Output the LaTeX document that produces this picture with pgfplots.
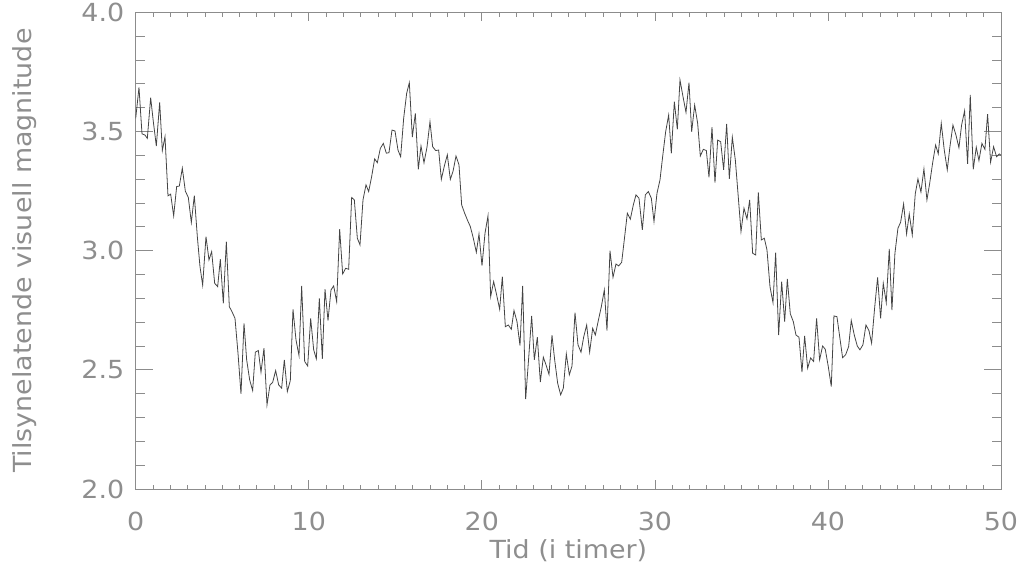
\documentclass[border=0pt]{standalone}
\usepackage{fontspec}
\setmainfont{DejaVu Sans}[FakeStretch=1.08]
\usepackage{pgfplots}
\pgfplotsset{compat=1.18}
\usepackage{pgfplotstable}
\definecolor{txtgray}{HTML}{8E8E8E}
\definecolor{axgray}{HTML}{8C8C8C}
\definecolor{linegray}{HTML}{444444}

\pgfplotstableread{
t m
0.00 3.555
0.19 3.685
0.364 3.490
0.537 3.485
0.672 3.471
0.865 3.642
1.019 3.541
1.192 3.439
1.385 3.622
1.539 3.420
1.693 3.478
1.866 3.230
2.020 3.237
2.194 3.146
2.367 3.269
2.521 3.271
2.694 3.346
2.868 3.250
3.041 3.223
3.215 3.118
3.388 3.231
3.561 3.059
3.715 2.933
3.869 2.855
4.062 3.059
4.235 2.961
4.389 2.996
4.563 2.863
4.736 2.849
4.890 2.964
5.063 2.779
5.237 3.038
5.410 2.765
5.564 2.744
5.738 2.716
5.911 2.570
6.084 2.399
6.258 2.695
6.412 2.542
6.585 2.458
6.758 2.413
6.913 2.574
7.086 2.581
7.240 2.490
7.413 2.591
7.587 2.353
7.760 2.437
7.914 2.447
8.087 2.497
8.261 2.437
8.434 2.423
8.588 2.542
8.762 2.409
8.935 2.455
9.089 2.754
9.262 2.626
9.436 2.560
9.590 2.852
9.764 2.535
9.937 2.516
10.110 2.716
10.284 2.584
10.438 2.546
10.611 2.800
10.784 2.546
10.939 2.838
11.112 2.707
11.285 2.835
11.439 2.852
11.613 2.786
11.786 3.090
11.959 2.902
12.133 2.926
12.306 2.922
12.479 3.223
12.633 3.213
12.807 3.052
12.961 3.024
13.134 3.213
13.308 3.276
13.462 3.248
13.635 3.311
13.808 3.385
13.962 3.369
14.136 3.429
14.309 3.450
14.482 3.409
14.636 3.411
14.810 3.506
14.983 3.502
15.156 3.422
15.310 3.394
15.484 3.555
15.657 3.660
15.811 3.705
15.985 3.476
16.158 3.576
16.331 3.341
16.485 3.439
16.659 3.369
16.832 3.434
17.005 3.541
17.159 3.436
17.333 3.420
17.506 3.422
17.660 3.299
17.834 3.355
18.007 3.402
18.180 3.299
18.334 3.332
18.508 3.397
18.681 3.360
18.835 3.192
19.008 3.157
19.182 3.126
19.336 3.101
19.509 3.052
19.683 2.993
19.837 3.070
20.010 2.937
20.184 3.073
20.357 3.146
20.511 2.807
20.684 2.870
20.858 2.814
21.031 2.754
21.185 2.891
21.359 2.681
21.532 2.688
21.705 2.670
21.859 2.749
22.033 2.702
22.206 2.602
22.360 2.852
22.533 2.377
22.707 2.549
22.880 2.726
23.034 2.542
23.208 2.637
23.381 2.449
23.554 2.553
23.708 2.521
23.882 2.481
24.055 2.645
24.209 2.542
24.382 2.444
24.556 2.395
24.710 2.423
24.883 2.567
25.056 2.479
25.211 2.516
25.384 2.740
25.557 2.605
25.731 2.574
25.885 2.637
26.058 2.688
26.231 2.574
26.405 2.674
26.559 2.646
26.732 2.707
26.906 2.765
27.079 2.835
27.233 2.665
27.406 3.000
27.580 2.888
27.753 2.944
27.907 2.936
28.081 2.951
28.254 3.059
28.408 3.157
28.581 3.132
28.755 3.192
28.908 3.234
29.082 3.220
29.275 3.087
29.448 3.234
29.622 3.248
29.795 3.220
29.949 3.122
30.122 3.241
30.296 3.297
30.450 3.395
30.623 3.499
30.796 3.569
30.950 3.408
31.124 3.625
31.297 3.509
31.451 3.716
31.625 3.646
31.798 3.580
31.971 3.705
32.125 3.499
32.299 3.611
32.472 3.534
32.626 3.397
32.799 3.425
32.973 3.420
33.127 3.308
33.300 3.518
33.473 3.285
33.628 3.464
33.801 3.457
33.974 3.339
34.148 3.532
34.302 3.301
34.475 3.476
34.648 3.381
34.802 3.241
34.976 3.080
35.149 3.178
35.322 3.133
35.477 3.213
35.650 2.989
35.823 2.982
35.977 3.244
36.151 3.045
36.324 3.052
36.478 3.003
36.651 2.849
36.825 2.782
36.979 2.992
37.152 2.646
37.326 2.870
37.499 2.702
37.653 2.881
37.826 2.735
38.000 2.702
38.154 2.646
38.327 2.637
38.500 2.490
38.654 2.642
38.828 2.507
39.000 2.550
39.172 2.535
39.345 2.716
39.519 2.542
39.692 2.600
39.846 2.586
40.019 2.514
40.193 2.430
40.347 2.726
40.520 2.723
40.693 2.632
40.847 2.551
41.021 2.563
41.194 2.597
41.348 2.707
41.522 2.646
41.695 2.600
41.849 2.584
42.022 2.605
42.196 2.688
42.369 2.665
42.523 2.612
42.696 2.758
42.870 2.888
43.043 2.716
43.197 2.863
43.370 2.782
43.544 3.007
43.698 2.751
43.871 2.989
44.045 3.094
44.199 3.119
44.372 3.196
44.545 3.070
44.699 3.154
44.873 3.066
45.046 3.238
45.200 3.301
45.374 3.246
45.547 3.343
45.720 3.213
45.874 3.280
46.048 3.367
46.221 3.443
46.375 3.406
46.548 3.534
46.722 3.422
46.895 3.339
47.049 3.436
47.223 3.527
47.396 3.485
47.569 3.432
47.723 3.527
47.897 3.587
48.070 3.364
48.224 3.653
48.397 3.341
48.571 3.434
48.725 3.378
48.898 3.450
49.071 3.425
49.225 3.573
49.399 3.371
49.572 3.436
49.745 3.394
49.899 3.406
50.000 3.400
}\magdata

\begin{document}
\begin{tikzpicture}
\begin{axis}[
  at={(0,0)}, anchor=south west,
  scale only axis, width=865.3bp, height=476.7bp,
  xmin=0, xmax=50, ymin=2, ymax=4,
  xtick=\empty,
  ytick={2,2.5,3,3.5,4}, minor y tick num=4,
  major tick length=17bp, minor tick length=9bp,
  axis line style={axgray, line width=0.7pt},
  tick style={axgray, line width=0.7pt},
  /pgf/number format/assume math mode=true,
  yticklabel style={/pgf/number format/fixed, /pgf/number format/fixed zerofill, /pgf/number format/precision=1,
    text=txtgray, font=\fontsize{25}{30}\selectfont, xshift=-8bp},
  ylabel={Tilsynelatende visuell magnitude},
  ylabel style={at={(axis description cs:-0.1279,0.5)}, anchor=center, text=txtgray, font=\fontsize{25}{30}\selectfont},
]
\addplot[linegray, line width=0.8pt, mark=none] table[x=t, y=m] {\magdata};
\end{axis}
\begin{axis}[
  at={(0,0)}, anchor=south west,
  scale only axis, width=865.3bp, height=476.7bp,
  xmin=0, xmax=50, ymin=2, ymax=4,
  hide y axis,
  xtick={0,10,20,30,40,50}, minor x tick num=9,
  major tick length=9bp, minor tick length=4.5bp,
  axis line style={axgray, line width=0.7pt},
  tick style={axgray, line width=0.7pt},
  /pgf/number format/assume math mode=true,
  xticklabel style={anchor=center, yshift=-32bp, text=txtgray, font=\fontsize{25}{30}\selectfont},
  xlabel={Tid (i timer)},
  xlabel style={at={(axis description cs:0.5,-0.1295)}, anchor=center, text=txtgray, font=\fontsize{25}{30}\selectfont},
]
\end{axis}
\pgfresetboundingbox
\path[use as bounding box] (-135.7bp,-80bp) rectangle (886.3bp,489bp);
\end{tikzpicture}
\end{document}
